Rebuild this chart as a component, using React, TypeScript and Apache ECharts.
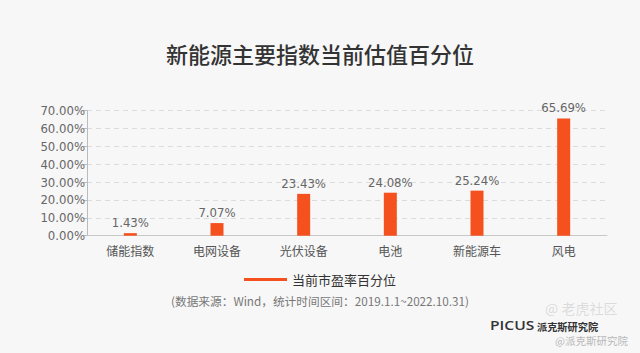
import React, { useEffect, useRef } from "react";
import * as echarts from "echarts";

const categories = ["储能指数", "电网设备", "光伏设备", "电池", "新能源车", "风电"];
const values = [1.43, 7.07, 23.43, 24.08, 25.24, 65.69];
const seriesName = "当前市盈率百分位";
const titleText = "新能源主要指数当前估值百分位";
const sourceText = "(数据来源：Wind，统计时间区间：2019.1.1~2022.10.31)";

const NARROW = "'DejaVu Sans Condensed', 'Liberation Sans Narrow', sans-serif";
const CJK = "'Noto Sans CJK SC', 'Noto Sans', sans-serif";

export default function App() {
  const ref = useRef<HTMLDivElement>(null);
  useEffect(() => {
    document.body.style.margin = "0";
    const chart = echarts.init(ref.current!, null, { renderer: "svg" });
    chart.setOption({
      animation: false,
      backgroundColor: "#f7f7f7",
      title: {
        text: titleText,
        left: "center",
        top: 37,
        textStyle: { fontFamily: CJK, fontSize: 22, fontWeight: 500, color: "#333" },
      },
      legend: {
        data: [seriesName],
        top: 268,
        left: "center",
        icon: "rect",
        itemWidth: 43,
        itemHeight: 3,
        itemGap: 8,
        textStyle: { fontFamily: CJK, fontSize: 13, color: "#333" },
      },
      grid: { left: 87, width: 520, top: 110.7, bottom: 117.3, containLabel: false },
      xAxis: {
        type: "category",
        data: categories,
        axisLine: { lineStyle: { color: "#c8c8c8", width: 1 } },
        axisTick: { show: false },
        axisLabel: { fontFamily: CJK, fontSize: 12, color: "#555", margin: 9 },
      },
      yAxis: {
        type: "value",
        min: 0,
        max: 70,
        interval: 10,
        axisLine: { show: true, lineStyle: { color: "#bbb" } },
        axisTick: { show: true, length: 4, lineStyle: { color: "#bbb" } },
        axisLabel: {
          fontFamily: NARROW,
          fontSize: 13,
          color: "#666",
          margin: 2,
          formatter: (v: number) => v.toFixed(2) + "%",
        },
        splitLine: { lineStyle: { color: "#dcdcdc", type: [5, 4] } },
      },
      series: [
        {
          name: seriesName,
          type: "bar",
          data: values,
          barWidth: 13,
          itemStyle: { color: "#f5511f" },
          label: {
            show: true,
            position: "top",
            distance: 4,
            fontFamily: NARROW,
            fontSize: 13,
            color: "#666",
            formatter: (p: any) => p.value.toFixed(2) + "%",
          },
        },
      ],
      graphic: [
        {
          type: "text",
          left: "center",
          top: 295,
          style: { text: sourceText, fontFamily: CJK, fontSize: 11.7, fill: "#777" },
        },
        {
          type: "text",
          x: 545,
          y: 308,
          style: {
            text: "@ 老虎社区",
            fontFamily: CJK,
            fontSize: 14,
            fill: "rgba(185,185,185,0.45)",
            verticalAlign: "middle",
          },
        },
        {
          type: "text",
          x: 490,
          y: 325,
          scaleX: 1.3,
          style: {
            text: "PICUS",
            fontFamily: "'Open Sans', sans-serif",
            fontSize: 12,
            fontWeight: 600,
            fill: "#333",
            verticalAlign: "middle",
          },
        },
        {
          type: "text",
          x: 537,
          y: 326,
          style: {
            text: "派克斯研究院",
            fontFamily: CJK,
            fontSize: 10.2,
            fontWeight: "bold",
            fill: "#333",
            verticalAlign: "middle",
          },
        },
        {
          type: "text",
          x: 555,
          y: 340,
          style: {
            text: "@派克斯研究院",
            fontFamily: CJK,
            fontSize: 10.5,
            fill: "#b8b8b8",
            verticalAlign: "middle",
          },
        },
      ],
    });
    return () => chart.dispose();
  }, []);
  return <div ref={ref} style={{ position: "absolute", left: 0, top: 0, width: 640, height: 353 }} />;
}
